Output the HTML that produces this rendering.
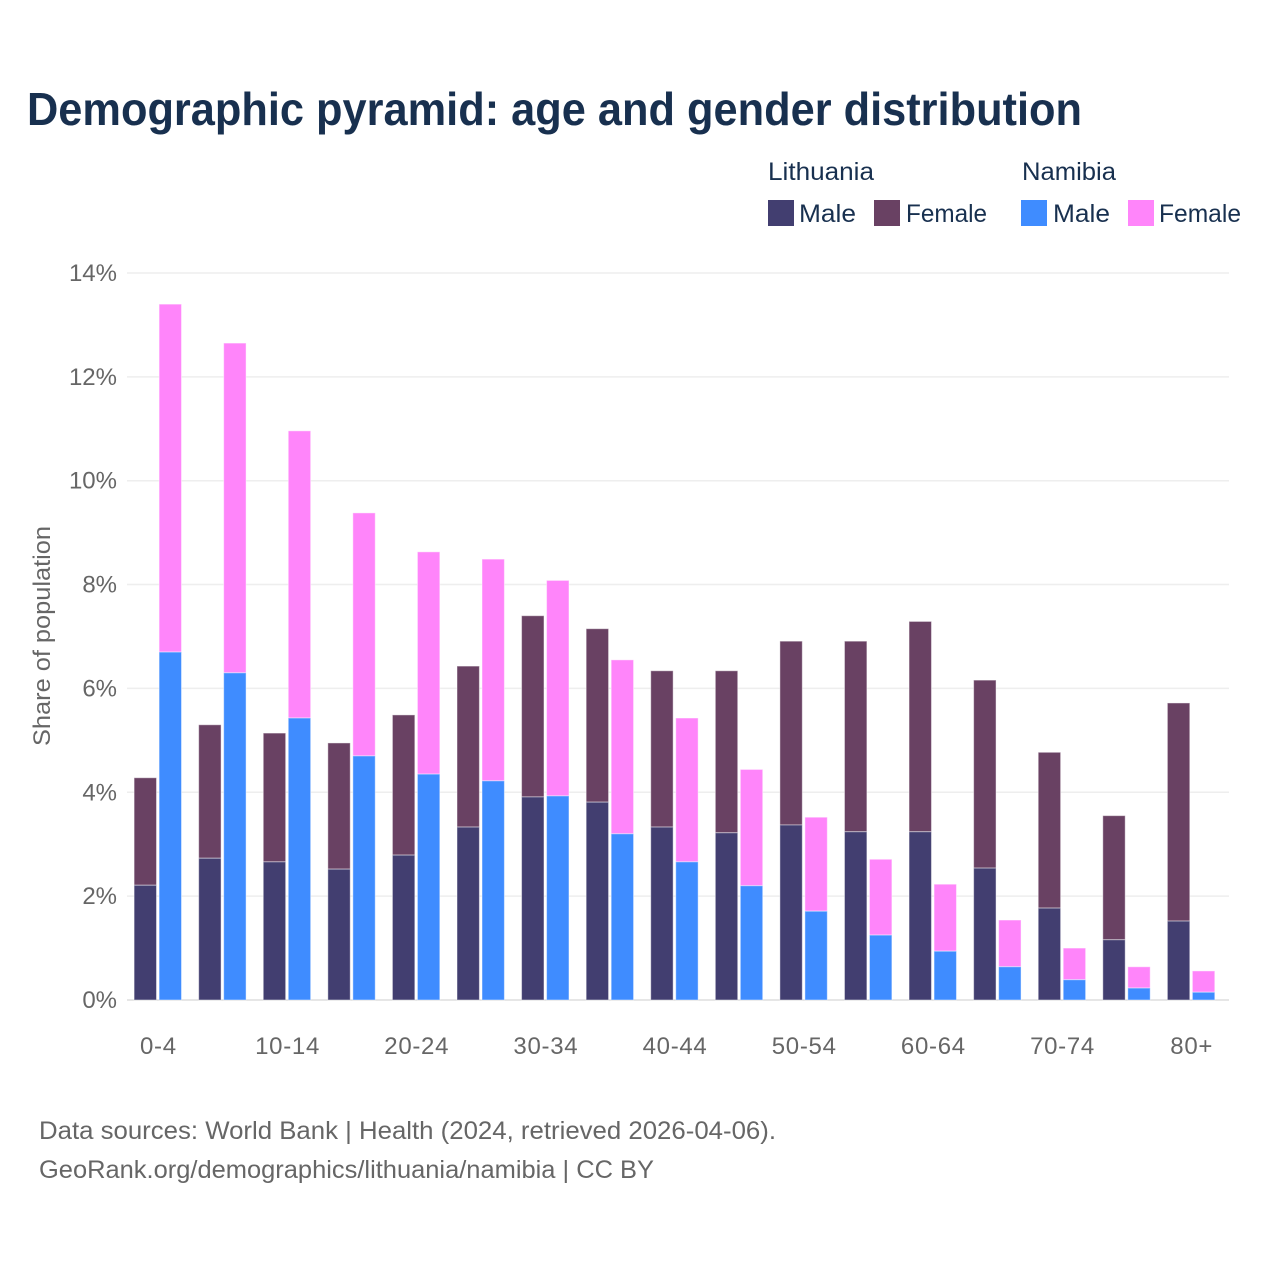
<!DOCTYPE html>
<html lang="en">
<head>
<meta charset="utf-8">
<title>Demographic pyramid</title>
<style>
html,body{margin:0;padding:0;background:#fff;}
svg{display:block;font-family:"Liberation Sans",sans-serif;}
</style>
</head>
<body>
<svg id="chart" xmlns="http://www.w3.org/2000/svg" width="1280" height="1280" viewBox="0 0 1280 1280">
  <text x="27" y="125" font-size="46" font-weight="700" fill="#18304f" textLength="1055" lengthAdjust="spacingAndGlyphs">Demographic pyramid: age and gender distribution</text>

  <g font-size="25" fill="#18304f">
    <text x="768" y="180" textLength="106" lengthAdjust="spacingAndGlyphs">Lithuania</text>
    <text x="1022" y="180" textLength="94" lengthAdjust="spacingAndGlyphs">Namibia</text>
    <rect x="768" y="200" width="26" height="26" fill="#423e70"/>
    <text x="799" y="222" textLength="57" lengthAdjust="spacingAndGlyphs">Male</text>
    <rect x="874" y="200" width="26" height="26" fill="#694163"/>
    <text x="906" y="222" textLength="81" lengthAdjust="spacingAndGlyphs">Female</text>
    <rect x="1021" y="200" width="26" height="26" fill="#3f8cff"/>
    <text x="1053" y="222" textLength="57" lengthAdjust="spacingAndGlyphs">Male</text>
    <rect x="1128" y="200" width="26" height="26" fill="#ff85fa"/>
    <text x="1159" y="222" textLength="82" lengthAdjust="spacingAndGlyphs">Female</text>
  </g>

  <g id="grid"></g>
  <g id="bars"></g>
  <g id="xlabels"></g>

  <text transform="translate(50,636) rotate(-90)" text-anchor="middle" font-size="24" fill="#666666" textLength="220" lengthAdjust="spacingAndGlyphs">Share of population</text>

  <text x="39" y="1139" font-size="25" fill="#666666" textLength="737" lengthAdjust="spacingAndGlyphs">Data sources: World Bank | Health (2024, retrieved 2026-04-06).</text>
  <text x="39" y="1178" font-size="25" fill="#666666" textLength="615" lengthAdjust="spacingAndGlyphs">GeoRank.org/demographics/lithuania/namibia | CC BY</text>
</svg>
<script>
const categories = ['0-4','5-9','10-14','15-19','20-24','25-29','30-34','35-39','40-44','45-49','50-54','55-59','60-64','65-69','70-74','75-79','80+'];
const xTickLabels = ['0-4','10-14','20-24','30-34','40-44','50-54','60-64','70-74','80+'];
const yTicks = [0,2,4,6,8,10,12,14];
const lithuaniaMale = [2.21,2.73,2.66,2.52,2.79,3.33,3.91,3.81,3.33,3.22,3.37,3.24,3.24,2.54,1.77,1.16,1.52];
const lithuaniaFemale = [2.07,2.57,2.48,2.43,2.70,3.10,3.49,3.34,3.01,3.12,3.54,3.67,4.05,3.62,3.00,2.39,4.20];
const namibiaMale = [6.70,6.30,5.43,4.70,4.35,4.22,3.93,3.20,2.66,2.20,1.71,1.25,0.94,0.64,0.39,0.23,0.15];
const namibiaFemale = [6.70,6.35,5.53,4.68,4.28,4.27,4.15,3.35,2.77,2.24,1.81,1.46,1.29,0.90,0.61,0.41,0.41];

const NS = 'http://www.w3.org/2000/svg';
const yScale = v => 1000 - v * 51.93;
const xCenter = i => 157.8 + i * 64.58;
const barWidth = 22.4;
const barGap = 2.6;

function make(tag, parent, attrs) {
  const el = document.createElementNS(NS, tag);
  for (const k in attrs) el.setAttribute(k, attrs[k]);
  parent.appendChild(el);
  return el;
}

const grid = document.getElementById('grid');
yTicks.forEach(t => {
  const line = make('line', grid, {x1: 127, x2: 1229, y1: yScale(t), y2: yScale(t), stroke: t === 0 ? '#e6e6e6' : '#eeeeee', 'stroke-width': t === 0 ? 2 : 1.5});
  
  
  const label = make('text', grid, {x: 117, y: yScale(t) + 8, 'text-anchor': 'end', 'font-size': 24, fill: '#666666'});
  
  
  label.textContent = t + '%';
});

const bars = document.getElementById('bars');
function drawStack(i, x, lower, upper, lowerColor, upperColor, key) {
  const yLower = yScale(lower);
  const yUpper = yScale(lower + upper);
  const top = make('rect', bars, {x: x, y: yUpper, width: barWidth, height: yLower - yUpper, fill: upperColor, stroke: 'rgba(255,255,255,0.45)', 'stroke-width': 1});
  
  
  const bottom = make('rect', bars, {x: x, y: yLower, width: barWidth, height: yScale(0) - yLower, fill: lowerColor, stroke: 'rgba(255,255,255,0.45)', 'stroke-width': 1});
  
  
}
categories.forEach((c, i) => {
  const cx = xCenter(i);
  drawStack(i, cx - barWidth - barGap / 2, lithuaniaMale[i], lithuaniaFemale[i], '#423e70', '#694163', 'lithuania');
  drawStack(i, cx + barGap / 2, namibiaMale[i], namibiaFemale[i], '#3f8cff', '#ff85fa', 'namibia');
});

const xlabels = document.getElementById('xlabels');
xTickLabels.forEach(l => {
  const i = categories.indexOf(l);
  const t = make('text', xlabels, {x: xCenter(i) + 0.6, y: 1054, 'text-anchor': 'middle', 'font-size': 24, 'letter-spacing': '0.7', fill: '#666666'});
  
  
  t.textContent = l;
});
</script>
</body>
</html>
